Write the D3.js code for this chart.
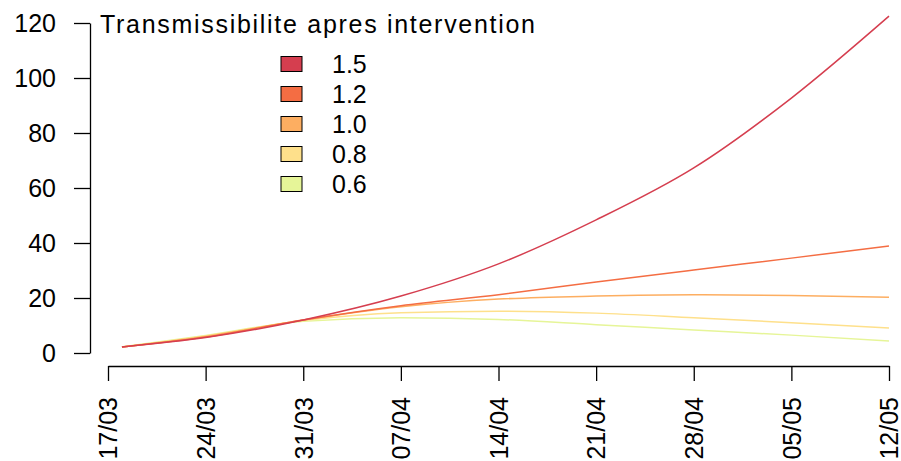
<!DOCTYPE html>
<html><head><meta charset="utf-8">
<script src="https://cdn.jsdelivr.net/npm/d3@7"></script>
<style>body{margin:0;background:#fff}svg{display:block}text{font-family:"Liberation Sans",Arial,sans-serif;fill:#000}</style>
</head><body><svg id="c" width="901" height="461"></svg>
<script>
// Data
const startDate = "2020-03-17";
const dayOffsets = [1, 7, 14, 21, 28, 35, 42, 49, 56];
const seriesNames = ["1.5", "1.2", "1.0", "0.8", "0.6"];
const s15 = [2.2, 5.6, 12.0, 20.7, 32.4, 48.4, 67.3, 92.7, 122.5];
const s12 = [2.2, 5.8, 12.0, 17.2, 21.2, 25.8, 30.2, 34.5, 38.9];
const s10 = [2.2, 6.0, 12.0, 16.8, 19.6, 20.7, 21.2, 20.9, 20.3];
const s08 = [2.2, 6.2, 11.8, 14.6, 15.2, 14.5, 12.8, 11.0, 9.1];
const s06 = [2.2, 6.4, 11.5, 12.8, 12.2, 10.3, 8.4, 6.5, 4.4];
const seriesValues = [s15, s12, s10, s08, s06];
const colors = ["#D53E4F", "#F46D43", "#FDAE61", "#FEE08B", "#E6F598"];
const yTicks = [0, 20, 40, 60, 80, 100, 120];
const xTickDays = [0, 7, 14, 21, 28, 35, 42, 49, 56];
const legendTitle = "Transmissibilite apres intervention";

const svg = d3.select("#c");
const parse = d3.timeParse("%Y-%m-%d");
const t0 = parse(startDate);
const dayToDate = d => d3.timeDay.offset(t0, d);

const x = d3.scaleTime().domain([dayToDate(0), dayToDate(56)]).range([108, 889]);
const y = d3.scaleLinear().domain([0, 120]).range([353, 23]);

// Y axis
const yAx = svg.append("g").attr("transform", "translate(90,0)")
  .call(d3.axisLeft(y).tickValues(yTicks).tickSize(16).tickPadding(18).tickSizeOuter(0));
yAx.select(".domain").attr("stroke", "#000").attr("stroke-width", 1.3);
yAx.selectAll(".tick line").attr("stroke", "#000").attr("stroke-width", 1.3);
yAx.selectAll(".tick text").style("font-size", "25px").attr("dy", "0.35em");

// X axis
const xAx = svg.append("g").attr("transform", "translate(0,366)")
  .call(d3.axisBottom(x).tickValues(xTickDays.map(dayToDate)).tickFormat(d3.timeFormat("%d/%m")).tickSize(15).tickSizeOuter(0));
xAx.select(".domain").attr("stroke", "#000").attr("stroke-width", 1.3);
xAx.selectAll(".tick line").attr("stroke", "#000").attr("stroke-width", 1.3);
xAx.selectAll(".tick text").style("font-size", "25px")
  .attr("text-anchor", "end").attr("transform", "rotate(-90)")
  .attr("x", -31).attr("y", 0).attr("dy", "0.35em");

// Lines
const line = d3.line().x((d, i) => x(dayToDate(dayOffsets[i]))).y(d => y(d)).curve(d3.curveMonotoneX);
seriesValues.slice().reverse().forEach((vals, k) => {
  const i = seriesValues.length - 1 - k;
  svg.append("path").attr("d", line(vals)).attr("fill", "none")
    .attr("stroke", colors[i]).attr("stroke-width", 1.5);
});

// Legend
svg.append("text").attr("x", 100).attr("y", 33).style("font-size", "25px")
  .attr("textLength", 435).attr("lengthAdjust", "spacing").text(legendTitle);
const lg = svg.append("g");
seriesNames.forEach((n, i) => {
  const cy = 64 + i * 30;
  lg.append("rect").attr("x", 281).attr("y", cy - 7.5).attr("width", 21).attr("height", 15)
    .attr("fill", colors[i]).attr("stroke", "#000").attr("stroke-width", 1);
  lg.append("text").attr("x", 332).attr("y", cy).attr("dy", "0.35em").style("font-size", "25px").text(n);
});
</script></body></html>
